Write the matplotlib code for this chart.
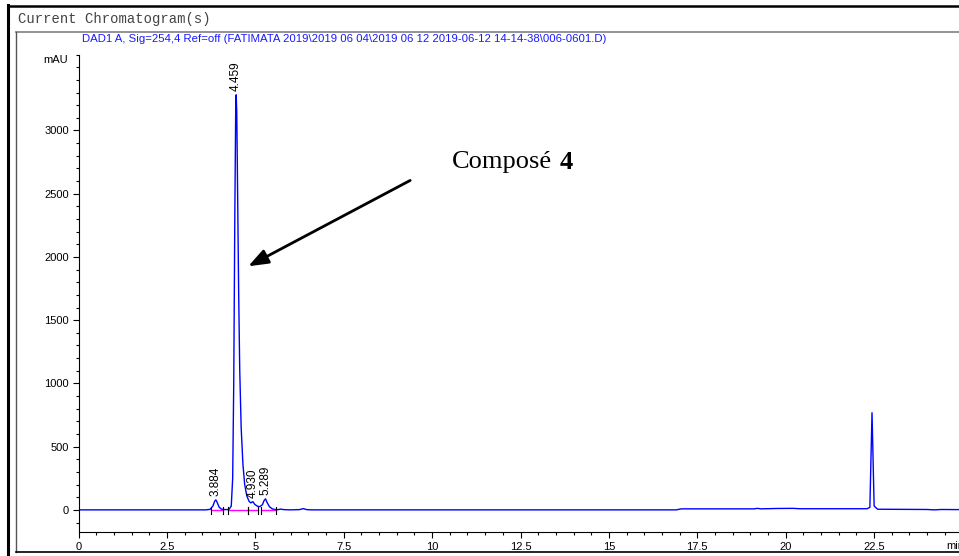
import matplotlib
matplotlib.use('Agg')
import matplotlib.pyplot as plt
from matplotlib.lines import Line2D
from matplotlib.ticker import MultipleLocator

# chromatogram trace (time in min, signal in mAU)
time = [0.0, 1.3, 3.6, 3.72, 3.80, 3.85, 3.884, 3.92, 3.98, 4.05, 4.15, 4.22,
        4.25, 4.32, 4.36, 4.39, 4.42, 4.445, 4.459, 4.475, 4.50, 4.53, 4.56,
        4.60, 4.65, 4.70, 4.76, 4.82, 4.87, 4.93, 4.98, 5.05, 5.12, 5.20, 5.25,
        5.289, 5.33, 5.40, 5.48, 5.55, 5.65, 5.72, 5.80, 6.0, 6.25, 6.36, 6.45,
        6.6, 10.0, 16.9, 17.05, 19.1, 19.2, 19.3, 19.75, 20.2, 20.4, 22.3,
        22.38, 22.41, 22.44, 22.47, 22.50, 22.6, 24.0, 24.2, 24.4, 24.9]
signal = [0, 0, 0, 4, 30, 68, 79, 60, 20, 5, 2, 3,
          2, 30, 250, 1000, 2300, 3150, 3282, 3150, 2500, 1700, 1100,
          650, 360, 200, 110, 70, 55, 65, 45, 30, 25, 40, 75,
          87, 60, 25, 8, 3, 2, 6, 2, 0, 2, 10, 2,
          0, 0, 0, 8, 8, 12, 8, 11, 12, 9, 9,
          20, 400, 768, 400, 30, 5, 3, 0, 3, 2]

# labelled peaks
peak_rt = [3.884, 4.459, 4.930, 5.289]
peak_h = [79, 3282, 65, 87]
peak_lab = ['3.884', '4.459', '4.930', '5.289']

# integration baselines (start, end)
base_start = [3.745, 4.22, 4.79, 5.17]
base_end = [4.08, 4.79, 5.07, 5.59]

title = 'DAD1 A, Sig=254,4 Ref=off (FATIMATA 2019\\2019 06 04\\2019 06 12 2019-06-12 14-14-38\\006-0601.D)'

W, H = 959, 556
fig = plt.figure(figsize=(W / 100, H / 100), dpi=100)
ax = fig.add_axes([78.5 / W, (H - 532) / H, 880.5 / W, 477.4 / H])

ax.plot(time, signal, color='#0000ff', lw=1.0)

for s, e in zip(base_start, base_end):
    ax.plot([s, e], [0, 0], color='#ff00ff', lw=1.0)
    for x in (s, e):
        ax.plot([x, x], [-30, 20], color='black', lw=0.8)

for x, h, lab in zip(peak_rt, peak_h, peak_lab):
    ax.text(x, h + 30, lab, rotation=90, ha='center', va='bottom',
            fontsize=8.5, family='Liberation Sans')

ax.set_xlim(0, 24.9)
ax.set_ylim(-175, 3600)
ax.xaxis.set_minor_locator(MultipleLocator(0.5))
ax.yaxis.set_minor_locator(MultipleLocator(100))
ax.set_xticks([0, 2.5, 5, 7.5, 10, 12.5, 15, 17.5, 20, 22.5])
ax.set_xticklabels(['0', '2.5', '5', '7.5', '10', '12.5', '15', '17.5', '20', '22.5'])
ax.set_yticks([0, 500, 1000, 1500, 2000, 2500, 3000])
ax.tick_params(which='major', length=4, width=0.8, labelsize=8, pad=3)
ax.tick_params(which='minor', length=2.5, width=0.8)
for lab in ax.get_xticklabels() + ax.get_yticklabels():
    lab.set_family('Liberation Sans')
for sp in ['top', 'right']:
    ax.spines[sp].set_visible(False)
ax.spines['left'].set_linewidth(0.8)
ax.spines['bottom'].set_linewidth(0.8)
ax.patch.set_alpha(0)

ax.text(-0.012, 3560, 'mAU', transform=ax.get_yaxis_transform(), ha='right',
        va='center', fontsize=8, family='Liberation Sans')
ax.text(24.53, -0.03, 'min', transform=ax.get_xaxis_transform(), ha='left',
        va='center', fontsize=8, family='Liberation Sans')

# arrow and compound label
ax.annotate('', xy=(4.80, 1926), xytext=(9.38, 2605),
            arrowprops=dict(arrowstyle='-|>,head_length=0.8,head_width=0.3',
                            mutation_scale=15, lw=2, color='black',
                            shrinkA=0, shrinkB=0))
ax.text(10.56, 2747, 'Composé', fontsize=19, family='Liberation Serif',
        ha='left', va='center')
ax.text(13.6, 2747, '4', fontsize=19, family='Liberation Serif',
        weight='bold', ha='left', va='center')

# report frame
def fline(x0, y0, x1, y1, color, lw):
    fig.add_artist(Line2D([x0 / W, x1 / W], [1 - y0 / H, 1 - y1 / H],
                          color=color, lw=lw, transform=fig.transFigure))

fline(8, 5, 8, H, 'black', 2.2)
fline(8, 6, W, 6, 'black', 1.8)
fline(16, 32, W, 32, '#8a8a8a', 1.3)
fline(16, 32, 16, 552, '#555555', 1.0)
fline(16, 552, W, 552, 'black', 1.2)

fig.text(18 / W, 1 - 19 / H, 'Current Chromatogram(s)', fontsize=10,
         family='Liberation Mono', color='#444444', va='center')
fig.text(82 / W, 1 - 39 / H, title, fontsize=8.2, family='Liberation Sans',
         color='#1a1aff', va='center')

fig.savefig('out.png', dpi=100)
